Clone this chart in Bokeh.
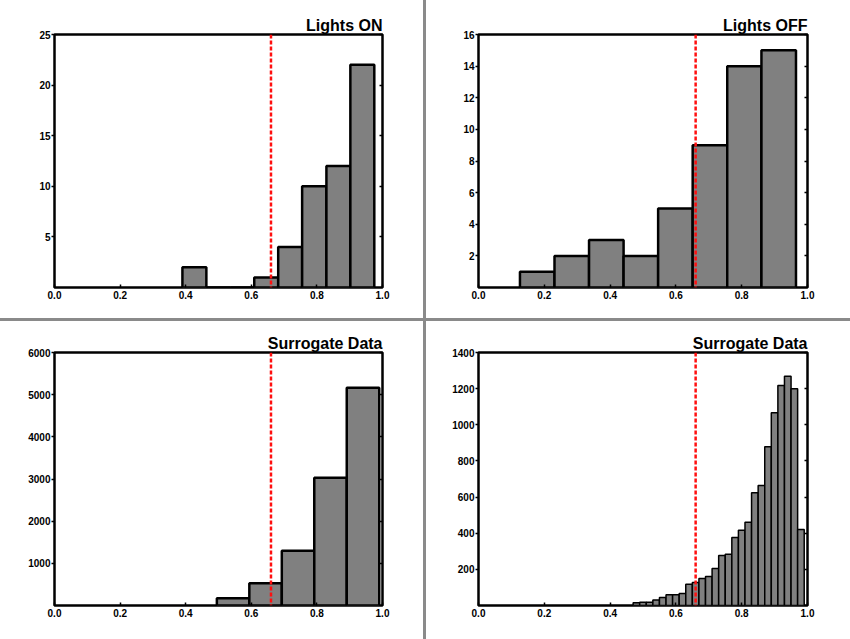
from bokeh.plotting import figure
from bokeh.models import GridPlot, LinearAxis, Span, FixedTicker, PrintfTickFormatter, Range1d
from bokeh.embed import file_html
from bokeh.resources import INLINE

# ---------------- data ----------------
on_edges = [0.39, 0.463, 0.536, 0.609, 0.682, 0.755, 0.829, 0.902, 0.975]
on_counts = [2, 0, 0, 1, 4, 10, 12, 22]

off_edges = [0.126, 0.231, 0.336, 0.441, 0.546, 0.651, 0.756, 0.860, 0.965]
off_counts = [1, 2, 3, 2, 5, 9, 14, 15]

sur1_edges = [0.495, 0.594, 0.693, 0.792, 0.891, 0.990]
sur1_counts = [173, 528, 1301, 3028, 5165]

sur2_edges = [0.47, 0.49, 0.51, 0.53, 0.55, 0.57, 0.59, 0.61, 0.63, 0.65,
              0.67, 0.69, 0.71, 0.73, 0.75, 0.77, 0.79, 0.81, 0.83, 0.85,
              0.87, 0.89, 0.91, 0.93, 0.95, 0.97, 0.99]
sur2_counts = [15, 18, 18, 30, 44, 59, 59, 66, 118, 127, 149, 160, 205, 277,
               284, 376, 417, 461, 624, 664, 878, 1066, 1218, 1268, 1200, 421]

threshold = 0.66
x_ticks = [0.0, 0.2, 0.4, 0.6, 0.8, 1.0]

FONT = "Liberation Sans"


def make(title, edges, counts, ymax, yticks, w, h, borders, bar_lw):
    bl, br, bt, bb = borders
    p = figure(width=w, height=h, output_backend="svg", toolbar_location=None,
               x_range=Range1d(0, 1), y_range=Range1d(0, ymax),
               min_border_left=bl, min_border_right=br,
               min_border_top=bt, min_border_bottom=bb,
               x_axis_location=None, y_axis_location=None)
    p.grid.visible = False
    p.outline_line_color = "black"
    p.outline_line_width = 2.5
    p.outline_line_alpha = 1
    p.background_fill_color = "white"
    p.border_fill_color = "white"

    # title
    p.title.text = title
    p.title.align = "right"
    p.title.text_color = "black"
    p.title.text_font = FONT
    p.title.text_font_style = "bold"
    p.title.text_font_size = "16px"
    p.title.standoff = 2
    p.title.offset = 0

    bottom = LinearAxis(ticker=FixedTicker(ticks=x_ticks),
                        formatter=PrintfTickFormatter(format="%.1f"))
    bottom.axis_line_color = None
    bottom.major_tick_in = 3
    bottom.major_tick_out = 0
    bottom.major_tick_line_width = 1.5
    bottom.major_tick_line_color = "black"
    bottom.minor_tick_line_color = None
    bottom.major_label_standoff = 3
    bottom.major_label_text_color = "black"
    bottom.major_label_text_font = FONT
    bottom.major_label_text_font_style = "bold"
    bottom.major_label_text_font_size = "10px"
    p.add_layout(bottom, "below")

    left = LinearAxis(ticker=FixedTicker(ticks=yticks))
    left.axis_line_color = None
    left.major_tick_in = 0
    left.major_tick_out = 3
    left.major_tick_line_width = 1.5
    left.major_tick_line_color = "black"
    left.minor_tick_line_color = None
    left.major_label_standoff = 1
    left.major_label_text_color = "black"
    left.major_label_text_font = FONT
    left.major_label_text_font_style = "bold"
    left.major_label_text_font_size = "10px"
    p.add_layout(left, "left")

    right = LinearAxis(ticker=FixedTicker(ticks=yticks))
    right.axis_line_color = None
    right.major_tick_in = 3
    right.major_tick_out = 0
    right.major_tick_line_width = 1.5
    right.major_tick_line_color = "black"
    right.minor_tick_line_color = None
    right.major_label_text_alpha = 0
    right.major_label_text_font_size = "10px"
    p.add_layout(right, "right")

    p.quad(left=edges[:-1], right=edges[1:], bottom=0, top=counts,
           fill_color="#808080", line_color="black", line_width=bar_lw)

    p.add_layout(Span(location=threshold, dimension="height", line_color="#ff1010",
                      line_width=2.5, line_dash="4 2"))
    return p


p1 = make("Lights ON", on_edges, on_counts, 25, [5, 10, 15, 20, 25],
          423, 318, (54, 41, 34, 31), 2.5)
p2 = make("Lights OFF", off_edges, off_counts, 16, [2, 4, 6, 8, 10, 12, 14, 16],
          424, 318, (52, 43, 34, 31), 2.5)
p3 = make("Surrogate Data", sur1_edges, sur1_counts, 6000,
          [1000, 2000, 3000, 4000, 5000, 6000],
          423, 318, (54, 41, 31, 33), 2.5)
p4 = make("Surrogate Data", sur2_edges, sur2_counts, 1400,
          [200, 400, 600, 800, 1000, 1200, 1400],
          424, 318, (52, 43, 31, 34), 1.5)

divider_bg = ("linear-gradient(to right, transparent 423px, #8a8a8a 423px, "
              "#8a8a8a 426px, transparent 426px), "
              "linear-gradient(to bottom, transparent 318px, #8a8a8a 318px, "
              "#8a8a8a 321px, transparent 321px), white")

grid = GridPlot(children=[(p1, 0, 0), (p2, 0, 1), (p3, 1, 0), (p4, 1, 1)],
                spacing=3, toolbar_location=None,
                styles={"background": divider_bg})

open("out.html", "w").write(file_html(grid, INLINE))
